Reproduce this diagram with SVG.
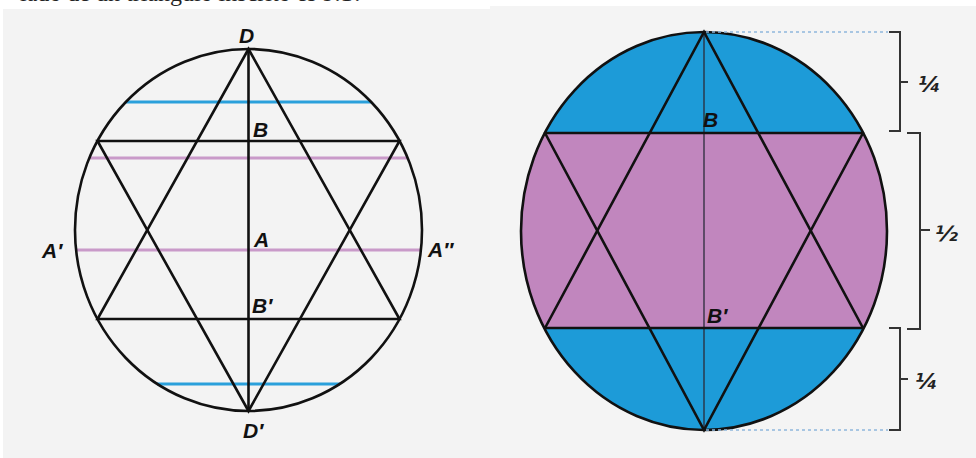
<svg xmlns="http://www.w3.org/2000/svg" width="976" height="458" viewBox="0 0 976 458">
<defs>
<style>
.lbl{font-family:"Liberation Sans",Arial,sans-serif;font-weight:bold;font-style:italic;font-size:21px;fill:#111}
.frac{font-family:"DejaVu Sans","Liberation Sans",sans-serif;font-weight:bold;font-style:italic;font-size:22px;fill:#222}
.blk{stroke:#111;stroke-width:2.6;fill:none;stroke-linecap:round}
.bl{stroke:#2aa0db;stroke-width:3}
.pk{stroke:#c99ac9;stroke-width:3}
.br{stroke:#333;stroke-width:2;fill:none}
.dot{stroke:#8fb6dc;stroke-width:1.4;stroke-dasharray:3 3}
</style>
<clipPath id="rc"><ellipse cx="704" cy="231" rx="183" ry="199"/></clipPath>
</defs>
<rect width="976" height="458" fill="#ffffff"/>
<text x="20" y="1" font-family="Liberation Serif,serif" font-size="24" fill="#222">lado de un triángulo inscrito es 9.1?</text>
<rect x="3" y="9" width="487" height="449" fill="#f3f3f3"/>
<rect x="490" y="6" width="486" height="452" fill="#f4f4f4"/>

<g id="left-figure">
<line class="bl" x1="126" y1="102" x2="371" y2="102"/>
<line class="bl" x1="157" y1="384" x2="340" y2="384"/>
<line class="pk" x1="89" y1="158" x2="408" y2="158"/>
<line class="pk" x1="76" y1="250" x2="421" y2="250"/>
<ellipse class="blk" cx="248.5" cy="230" rx="173.5" ry="181"/>
<polygon class="blk" points="248.5,49 97.5,319 399.5,319"/>
<polygon class="blk" points="248.5,411 97.5,141 399.5,141"/>
<line class="blk" x1="248.5" y1="49" x2="248.5" y2="411"/>
</g>
<g id="left-labels">
<text class="lbl" x="239" y="43">D</text>
<text class="lbl" x="253" y="137">B</text>
<text class="lbl" x="254" y="247">A</text>
<text class="lbl" x="252" y="313">B′</text>
<text class="lbl" x="243" y="438">D′</text>
<text class="lbl" x="42" y="258">A′</text>
<text class="lbl" x="428" y="257">A′′</text>
</g>

<g id="right-figure">
<ellipse cx="704" cy="231" rx="183" ry="199" fill="#1d9bd8"/>
<rect x="500" y="133" width="400" height="195" fill="#c186be" clip-path="url(#rc)"/>
<line x1="704" y1="32" x2="704" y2="430" stroke="#2a2a3a" stroke-width="1.3"/>
<line class="blk" x1="540" y1="133" x2="868" y2="133" clip-path="url(#rc)"/>
<line class="blk" x1="540" y1="328" x2="868" y2="328" clip-path="url(#rc)"/>
<polyline class="blk" points="545,328 704,32 863,328"/>
<polyline class="blk" points="545,133 704,430 863,133"/>
<ellipse class="blk" cx="704" cy="231" rx="183" ry="199"/>
<text class="lbl" x="703" y="127">B</text>
<text class="lbl" x="707" y="323">B′</text>
</g>

<g id="connectors">
<line class="dot" x1="706" y1="32" x2="888" y2="32"/>
<line class="dot" x1="706" y1="430" x2="888" y2="430"/>
<path class="br" d="M889,32 H900 V131 H889 M900,82 H908"/>
<path class="br" d="M907,133 H920 V329 H907 M920,230 H930"/>
<path class="br" d="M889,328 H900 V430 H889 M900,379 H908"/>
</g>
<g id="fractions">
<text class="frac" x="918" y="92">¼</text>
<text class="frac" x="935" y="241">½</text>
<text class="frac" x="915" y="389">¼</text>
</g>
</svg>
